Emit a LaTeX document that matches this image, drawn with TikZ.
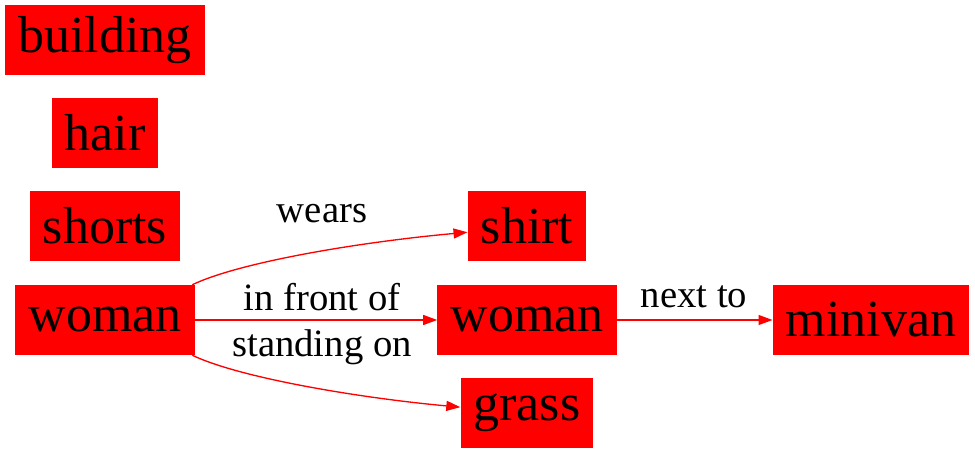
\documentclass[tikz,border=0pt]{standalone}
\usepackage{fontspec}
\setmainfont{Liberation Serif}
\usetikzlibrary{arrows.meta}
\definecolor{red}{RGB}{255,0,0}
\tikzset{
  objbox/.style={fill=red, draw=none, inner xsep=9.75pt, inner ysep=0pt, minimum height=52.5pt, font=\fontsize{39}{40}\selectfont},
  rellabel/.style={inner sep=0pt, font=\fontsize{29}{30}\selectfont},
  relarrow/.style={color=red, line width=1pt, -{Triangle[length=10.5pt,width=7.5pt]}}
}

\begin{document}
\begin{tikzpicture}[x=0.75pt,y=0.75pt,yscale=-1,xscale=1]
\useasboundingbox (0,0) rectangle (975,453);

% Object nodes
\node [objbox] (building) at (105,40) {building};
\node [objbox] (hair) at (105,133) {hair};
\node [objbox] (shorts) at (105,226) {shorts};
\node [objbox] (womanA) at (105,320) {woman};
\node [objbox] (shirt) at (527,226) {shirt};
\node [objbox] (womanB) at (527,320) {woman};
\node [objbox] (grass) at (527,413) {grass};
\node [objbox] (minivan) at (871,320) {minivan};

% Relations
\draw [relarrow] (womanA.22) .. controls (240,262) and (360,242) .. (shirt.186);
\draw [relarrow] (womanA.east) -- (womanB.west);
\draw [relarrow] (womanA.-22) .. controls (240,378) and (360,398) .. (grass.175);
\draw [relarrow] (womanB.east) -- (minivan.west);

% Text Node
\node [rellabel] (wears) at (322,214) {wears};
\node [rellabel] (front) at (322,297) {in front of};
\node [rellabel] (standing) at (322,347) {standing on};
\node [rellabel] (nextto) at (694,297) {next to};

\end{tikzpicture}
\end{document}
